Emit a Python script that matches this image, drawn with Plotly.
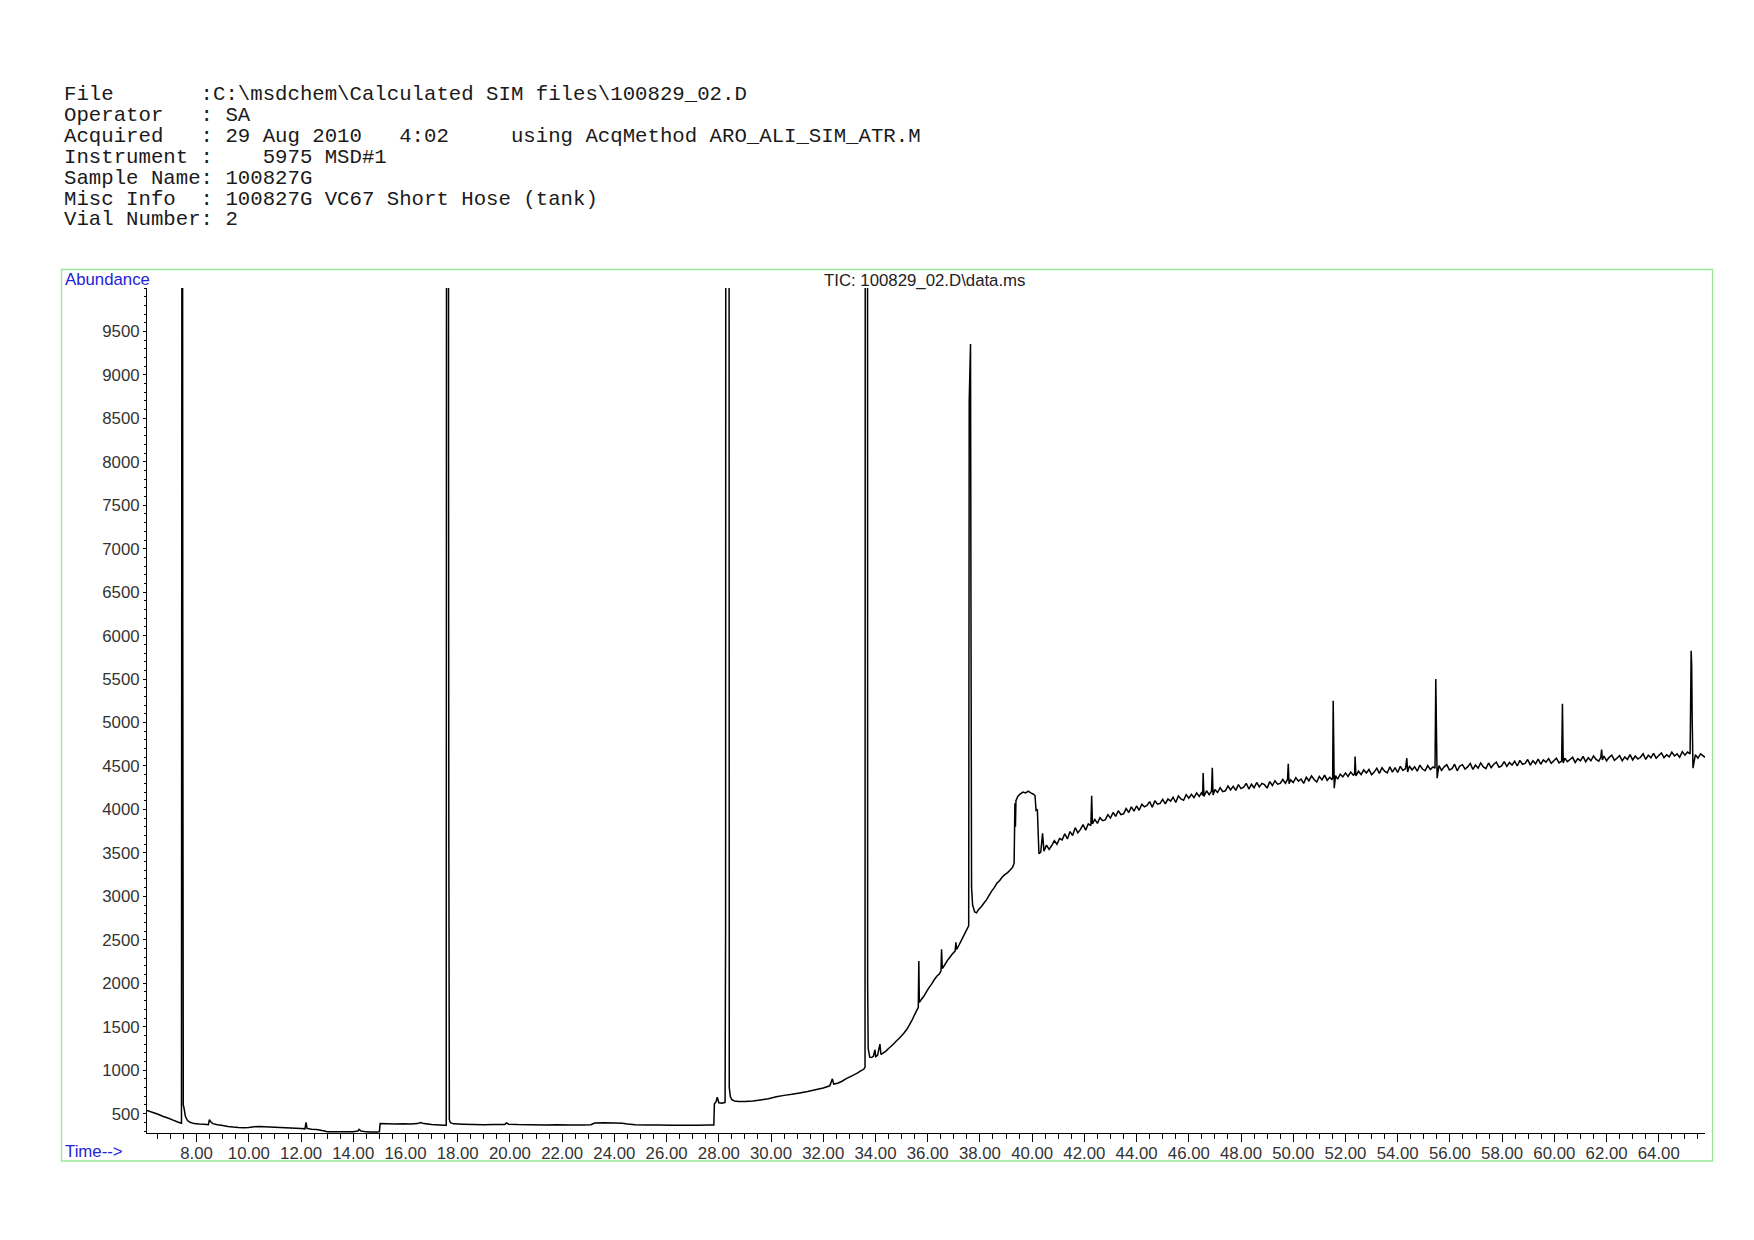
import plotly.graph_objects as go

# ---------------- header text ----------------
header_lines = [
    "File       :C:\\msdchem\\Calculated SIM files\\100829_02.D",
    "Operator   : SA",
    "Acquired   : 29 Aug 2010   4:02     using AcqMethod ARO_ALI_SIM_ATR.M",
    "Instrument :    5975 MSD#1",
    "Sample Name: 100827G",
    "Misc Info  : 100827G VC67 Short Hose (tank)",
    "Vial Number: 2",
]
chart_title = "TIC: 100829_02.D\\data.ms"
y_label = "Abundance"
x_label = "Time-->"

# ---------------- axis ticks ----------------
x_tick_values = [8, 10, 12, 14, 16, 18, 20, 22, 24, 26, 28, 30, 32, 34, 36, 38, 40,
                 42, 44, 46, 48, 50, 52, 54, 56, 58, 60, 62, 64]
x_tick_labels = ["%.2f" % v for v in x_tick_values]
y_tick_values = [500, 1000, 1500, 2000, 2500, 3000, 3500, 4000, 4500, 5000,
                 5500, 6000, 6500, 7000, 7500, 8000, 8500, 9000, 9500]
y_tick_labels = [str(v) for v in y_tick_values]

# ---------------- data: retention time (min) / abundance ----------------
t_early = [6.10, 6.30, 6.50, 6.70, 6.90, 7.10, 7.30, 7.42, 7.45, 7.47,
           7.49, 7.52, 7.57, 7.65, 7.75, 7.90, 8.10, 8.30, 8.45, 8.49,
           8.53, 8.62, 8.80, 9.00, 9.20, 9.40, 9.60, 9.80, 10.00, 10.20,
           10.40, 10.60, 10.80, 11.00, 11.20, 11.40, 11.60, 11.80, 12.00, 12.15,
           12.19, 12.23, 12.40, 12.60, 12.80, 12.90, 13.00, 13.20, 13.40, 13.60,
           13.80, 14.00, 14.18, 14.22, 14.30, 14.50, 14.70, 14.90, 15.00]
a_early = [535, 515, 495, 470, 450, 425, 400, 390, 20000, 6050,
           600, 560, 470, 420, 400, 385, 380, 378, 372, 430,
           410, 385, 372, 362, 352, 345, 340, 338, 340, 350,
           352, 348, 345, 342, 340, 338, 335, 333, 330, 325,
           400, 330, 320, 318, 305, 300, 292, 290, 290, 292,
           290, 292, 300, 318, 300, 290, 288, 289, 290]

t_mid = [15.03, 15.30, 15.60, 15.90, 16.20, 16.45, 16.58, 16.70, 17.00, 17.30,
         17.50, 17.56, 17.58, 17.64, 17.65, 17.66, 17.68, 17.72, 17.85, 18.20,
         18.60, 19.00, 19.40, 19.80, 19.87, 19.95, 20.30, 20.80, 21.30, 21.80,
         22.30, 22.80, 23.10, 23.25, 23.60, 24.00, 24.30, 24.50, 24.80, 25.20,
         25.70, 26.20, 26.70, 27.20, 27.60, 27.81, 27.83, 27.90, 27.94, 28.00,
         28.12, 28.24, 28.26, 28.28, 28.38, 28.40, 28.44, 28.50, 28.60, 28.75]
a_mid = [385, 382, 380, 382, 380, 385, 398, 385, 376, 370,
         367, 366, 20000, 20000, 8000, 3600, 430, 395, 382, 378,
         375, 372, 374, 376, 393, 378, 374, 372, 370, 372,
         370, 368, 372, 392, 395, 392, 390, 380, 372, 370,
         368, 366, 366, 366, 368, 368, 610, 640, 690, 625,
         620, 630, 2650, 30000, 30000, 800, 700, 660, 645, 640]

t_rise = [29.00, 29.30, 29.60, 29.90, 30.20, 30.50, 30.80, 31.10, 31.40, 31.70,
          32.00, 32.25, 32.35, 32.40, 32.55, 32.70, 32.90, 33.10, 33.30, 33.45,
          33.55, 33.60, 33.62, 33.69, 33.70, 33.72, 33.78, 33.85, 33.92, 33.98,
          34.01, 34.08, 34.17, 34.21, 34.30, 34.40, 34.50, 34.60, 34.70, 34.80,
          34.90, 35.00, 35.10, 35.20, 35.30, 35.40, 35.50, 35.60, 35.64, 35.66,
          35.68, 35.75, 35.85, 35.95, 36.05, 36.15, 36.25, 36.35, 36.45, 36.51,
          36.53, 36.56, 36.65, 36.75, 36.85, 36.95, 37.05, 37.08, 37.11, 37.20,
          37.30, 37.40, 37.50, 37.57, 37.59, 37.64, 37.66, 37.68, 37.72, 37.80,
          37.87, 37.95, 38.05, 38.15, 38.25, 38.35, 38.45, 38.55, 38.65, 38.75,
          38.85, 38.95, 39.05, 39.15, 39.25, 39.31, 39.34, 39.36, 39.38, 39.45,
          39.55, 39.65, 39.75, 39.85, 39.95, 40.05, 40.11, 40.15, 40.20, 40.26]
a_rise = [640, 645, 658, 672, 695, 710, 722, 738, 755, 775,
          795, 820, 900, 840, 850, 870, 905, 935, 965, 995,
          1010, 1035, 25000, 25000, 2000, 1250, 1150, 1145, 1160, 1235,
          1155, 1170, 1300, 1180, 1200, 1220, 1250, 1275, 1305, 1335,
          1365, 1395, 1430, 1470, 1520, 1575, 1640, 1700, 1720, 2255,
          1780, 1810, 1850, 1900, 1950, 1990, 2040, 2080, 2110, 2140,
          2390, 2170, 2210, 2260, 2300, 2340, 2370, 2470, 2390, 2440,
          2500, 2560, 2620, 2660, 8700, 9356, 5900, 3100, 2900, 2820,
          2810, 2850, 2880, 2920, 2960, 3010, 3060, 3100, 3150, 3180,
          3220, 3250, 3270, 3300, 3335, 3380, 4070, 3800, 4100, 4150,
          4180, 4200, 4190, 4210, 4190, 4175, 4160, 3990, 4000, 3490]

t_late = [40.33, 40.40, 40.45, 40.55, 40.65, 40.75, 40.85, 40.95, 41.05, 41.15,
          41.25, 41.35, 41.45, 41.55, 41.65, 41.75, 41.85, 41.95, 42.05, 42.15,
          42.25, 42.28, 42.31, 42.40, 42.50, 42.60, 42.70, 42.80, 42.90, 43.00,
          43.10, 43.20, 43.30, 43.40, 43.50, 43.60, 43.70, 43.80, 43.90, 44.00,
          44.10, 44.20, 44.30, 44.40, 44.50, 44.60, 44.70, 44.80, 44.90, 45.00,
          45.10, 45.20, 45.30, 45.40, 45.50, 45.60, 45.70, 45.80, 45.90, 46.00,
          46.10, 46.20, 46.30, 46.40, 46.50, 46.53, 46.55, 46.58, 46.68, 46.78,
          46.87, 46.90, 46.93, 47.00, 47.10, 47.20, 47.30, 47.40, 47.50, 47.60,
          47.70, 47.80, 47.90, 48.00, 48.10, 48.20, 48.30, 48.40, 48.50, 48.60,
          48.70, 48.80, 48.90, 49.00, 49.10, 49.20, 49.30, 49.40, 49.50, 49.60,
          49.70, 49.78, 49.81, 49.84, 49.90, 50.00, 50.10, 50.20, 50.30, 50.40,
          50.50, 50.60, 50.70, 50.80, 50.90, 51.00, 51.10, 51.20, 51.30, 51.40,
          51.48, 51.51, 51.53, 51.55, 51.57, 51.62, 51.70, 51.80, 51.90, 52.00,
          52.10, 52.20, 52.30, 52.35, 52.37, 52.40, 52.50, 52.60, 52.70, 52.80,
          52.90, 53.00, 53.10, 53.20, 53.30, 53.40, 53.50, 53.60, 53.70, 53.80,
          53.90, 54.00, 54.10, 54.20, 54.30, 54.35, 54.38, 54.45, 54.55, 54.65,
          54.75, 54.85, 54.95, 55.05, 55.15, 55.25, 55.35, 55.43, 55.46, 55.49,
          55.51, 55.58, 55.68, 55.78, 55.88, 55.98, 56.08, 56.18, 56.28, 56.38,
          56.48, 56.58, 56.68, 56.78, 56.88, 56.98, 57.08, 57.18, 57.28, 57.38,
          57.48, 57.58, 57.68, 57.78, 57.88, 57.98, 58.08, 58.18, 58.28, 58.38,
          58.48, 58.58, 58.68, 58.78, 58.88, 58.98, 59.08, 59.18, 59.28, 59.38,
          59.48, 59.58, 59.68, 59.78, 59.88, 59.98, 60.08, 60.18, 60.28, 60.31,
          60.34, 60.40, 60.50, 60.60, 60.70, 60.80, 60.90, 61.00, 61.10, 61.20,
          61.30, 61.40, 61.50, 61.60, 61.70, 61.78, 61.81, 61.84, 61.90, 62.00,
          62.10, 62.20, 62.30, 62.40, 62.50, 62.60, 62.70, 62.80, 62.90, 63.00,
          63.10, 63.20, 63.30, 63.40, 63.50, 63.60, 63.70, 63.80, 63.90, 64.00,
          64.10, 64.20, 64.30, 64.40, 64.50, 64.60, 64.70, 64.80, 64.90, 65.00,
          65.10, 65.20, 65.24, 65.26, 65.28, 65.31, 65.40, 65.50, 65.60, 65.77]
a_late = [3510, 3726, 3520, 3590, 3540, 3585, 3640, 3600, 3665, 3650,
          3720, 3660, 3745, 3700, 3790, 3730, 3770, 3825, 3760, 3835,
          3815, 4156, 3835, 3885, 3840, 3905, 3870, 3880, 3940, 3900,
          3965, 3920, 3985, 3940, 3950, 4010, 3965, 4030, 3980, 4040,
          3990, 4060, 4030, 4045, 4090, 4025, 4100, 4060, 4070, 4115,
          4065, 4120, 4095, 4140, 4080, 4155, 4120, 4105, 4170, 4130,
          4175, 4135, 4190, 4150, 4200, 4160, 4420, 4150, 4215, 4170,
          4210, 4480, 4165, 4230, 4195, 4250, 4205, 4215, 4270, 4225,
          4265, 4220, 4285, 4240, 4255, 4300, 4235, 4290, 4250, 4310,
          4260, 4300, 4285, 4245, 4320, 4275, 4330, 4290, 4300, 4345,
          4300, 4345, 4525, 4295, 4340, 4310, 4365, 4325, 4350, 4300,
          4370, 4330, 4385, 4345, 4315, 4380, 4340, 4395, 4335, 4370,
          4345, 4360, 5250, 4780, 4245, 4390, 4350, 4405, 4375, 4420,
          4380, 4430, 4395, 4410, 4610, 4385, 4440, 4400, 4455, 4420,
          4460, 4400, 4430, 4475, 4415, 4480, 4440, 4420, 4490, 4430,
          4480, 4425, 4495, 4450, 4470, 4590, 4430, 4500, 4455, 4490,
          4440, 4510, 4465, 4445, 4505, 4460, 4490, 4475, 5500, 4800,
          4360, 4505, 4450, 4490, 4515, 4455, 4470, 4520, 4445, 4500,
          4515, 4465, 4490, 4530, 4460, 4510, 4475, 4535, 4490, 4470,
          4535, 4480, 4520, 4545, 4485, 4500, 4550, 4495, 4540, 4510,
          4555, 4500, 4565, 4520, 4530, 4575, 4510, 4560, 4525, 4580,
          4520, 4570, 4545, 4585, 4530, 4560, 4590, 4535, 4555, 5215,
          4535, 4590, 4550, 4575, 4600, 4540, 4585, 4560, 4610, 4550,
          4595, 4560, 4615, 4575, 4555, 4600, 4690, 4570, 4615, 4560,
          4600, 4625, 4565, 4590, 4620, 4560, 4605, 4575, 4630, 4570,
          4615, 4580, 4600, 4640, 4575, 4625, 4595, 4645, 4590, 4620,
          4650, 4595, 4630, 4605, 4660, 4615, 4640, 4600, 4665, 4625,
          4660, 4640, 5826, 5650, 5030, 4475, 4630, 4590, 4640, 4600]

for tt, aa in ((t_early, a_early), (t_mid, a_mid), (t_rise, a_rise), (t_late, a_late)):
    assert len(tt) == len(aa), (len(tt), len(aa))

time_min = t_early + t_mid + t_rise + t_late
abundance = a_early + a_mid + a_rise + a_late

# ---------------- geometry ----------------
# page pixel positions; the page body adds an 8 px margin before the figure
OFF = 8
FW, FH = 1738, 1224
PL, PR, PT, PB = 147, 1705, 288, 1133   # plot area on the page


def px_x(px):
    return (px - PL) / (PR - PL)


def px_y(py):
    return (PB - py) / (PB - PT)


fig = go.Figure()
fig.add_trace(go.Scatter(
    x=time_min, y=abundance, mode="lines",
    line=dict(color="black", width=1.5, simplify=False),
    hoverinfo="x+y", showlegend=False,
))

sans = "Arial, Liberation Sans, sans-serif"
mono = "Courier New, Liberation Mono, monospace"
blue = "#2323D8"
fs = 16.8

annotations = []
for i, line in enumerate(header_lines):
    annotations.append(dict(
        text=line.replace(" ", "\u00a0"), x=px_x(62), y=px_y(94.5 + i * 20.9),
        xref="paper", yref="paper", xanchor="left", yanchor="middle",
        showarrow=False, font=dict(family=mono, size=20.7, color="#1a1a1a"),
    ))
annotations.append(dict(text=y_label, x=px_x(62.5), y=px_y(279.5), xref="paper", yref="paper",
                        xanchor="left", yanchor="middle", showarrow=False,
                        font=dict(family=sans, size=fs, color=blue)))
annotations.append(dict(text=x_label, x=px_x(62.5), y=px_y(1151), xref="paper", yref="paper",
                        xanchor="left", yanchor="middle", showarrow=False,
                        font=dict(family=sans, size=fs, color=blue)))
annotations.append(dict(text=chart_title.replace(" ", "\u00a0"), x=px_x(925), y=px_y(280),
                        xref="paper", yref="paper", xanchor="center", yanchor="middle",
                        showarrow=False, font=dict(family=sans, size=fs, color="#222222")))

fig.update_layout(
    width=FW, height=FH,
    margin=dict(l=PL - OFF, r=FW - (PR - OFF), t=PT - OFF, b=FH - (PB - OFF), pad=0),
    paper_bgcolor="white", plot_bgcolor="white",
    annotations=annotations,
    shapes=[dict(type="rect", xref="paper", yref="paper",
                 x0=px_x(61.5), x1=px_x(1712.5), y0=px_y(1161), y1=px_y(269.5),
                 line=dict(color="#98E698", width=1.3), fillcolor="rgba(0,0,0,0)")],
    xaxis=dict(
        range=[6.10, 65.77], tickmode="array", tickvals=x_tick_values, ticktext=x_tick_labels,
        ticks="outside", ticklen=8, tickwidth=1, tickcolor="black",
        minor=dict(dtick=0.5, tick0=0, ticks="outside", ticklen=5, tickwidth=1, tickcolor="black"),
        showline=True, linecolor="black", linewidth=1, showgrid=False, zeroline=False,
        tickfont=dict(family=sans, size=fs, color="#333333"),
        ticklabelstandoff=-3,
    ),
    yaxis=dict(
        range=[277, 10000], tickmode="array", tickvals=y_tick_values, ticktext=y_tick_labels,
        ticks="outside", ticklen=3, tickwidth=1, tickcolor="black",
        minor=dict(dtick=100, tick0=0, ticks="outside", ticklen=2, tickwidth=1, tickcolor="black"),
        showline=True, linecolor="black", linewidth=1, showgrid=False, zeroline=False,
        tickfont=dict(family=sans, size=fs, color="#333333"),
        ticklabelstandoff=0,
    ),
)

fig.write_html("out.html")
